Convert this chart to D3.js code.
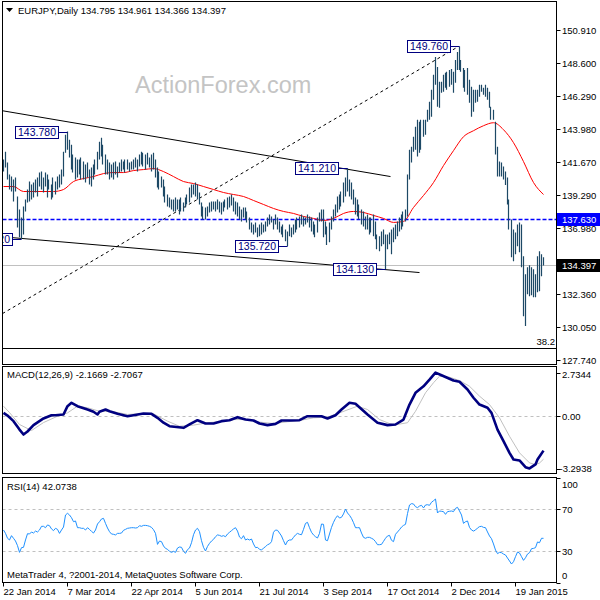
<!DOCTYPE html>
<html><head><meta charset="utf-8">
<script src="https://cdn.jsdelivr.net/npm/d3@7"></script>
<style>body{margin:0;background:#fff}svg{display:block;font-family:"Liberation Sans",Arial,sans-serif}</style>
</head><body><svg id="c" width="600" height="600"></svg>
<script>
// ---- DATA ----
const title = "EURJPY,Daily  134.795 134.961 134.366 134.397";
const highs = [141.81,142.37,141.60,140.76,140.62,140.41,140.55,139.22,138.31,137.75,138.52,139.01,139.71,140.27,140.06,140.20,140.41,140.55,140.90,140.97,
140.55,140.90,140.76,140.41,140.06,140.55,140.27,140.62,140.76,141.11,142.37,143.56,143.78,143.21,142.86,142.16,141.95,141.81,141.81,141.95,
141.67,141.46,141.60,141.11,141.25,141.46,141.81,142.37,143.07,143.35,142.86,142.16,141.81,141.60,141.46,141.60,141.67,141.32,141.60,141.81,
141.67,141.81,141.81,141.60,141.67,141.81,141.95,141.81,142.16,142.37,142.30,142.16,142.30,141.95,142.16,142.30,141.81,141.25,140.97,140.62,
140.41,139.92,139.36,139.15,139.01,139.01,139.15,139.01,139.01,139.15,138.80,139.15,139.36,139.85,140.06,140.06,140.20,140.06,139.50,138.80,
138.52,138.45,138.52,138.80,138.87,138.87,138.87,139.01,138.87,138.80,138.87,139.01,139.15,139.22,139.36,139.15,138.87,138.80,138.52,138.31,
138.45,138.45,138.17,137.75,137.40,137.26,137.40,137.05,137.26,137.40,137.26,137.47,137.75,137.96,137.82,137.61,137.96,137.75,137.47,137.12,
137.26,136.91,136.77,137.26,137.05,137.26,137.61,137.75,137.82,137.96,137.82,137.75,137.96,137.82,137.75,137.47,137.26,137.75,138.10,138.31,
138.31,137.47,137.12,137.40,137.82,138.31,138.66,139.22,139.36,139.57,140.20,140.55,141.21,140.41,140.20,139.71,139.15,139.01,138.66,138.31,
138.17,137.82,137.96,137.75,137.75,137.96,137.47,136.56,136.42,136.77,136.91,136.56,136.56,136.70,136.91,137.05,137.26,137.47,137.75,137.96,
138.17,138.31,140.76,142.51,142.72,143.42,144.12,144.61,144.47,144.61,144.61,144.61,145.31,145.87,146.71,147.76,149.02,148.32,147.27,147.27,
147.76,147.90,147.97,148.11,148.18,147.97,148.81,149.37,149.76,148.81,148.25,148.11,148.25,147.41,146.92,146.71,146.71,146.71,147.06,147.06,
146.85,147.06,146.85,146.57,145.52,145.31,144.47,142.72,141.67,141.60,141.32,140.97,140.55,139.01,137.61,136.91,136.70,137.26,137.40,137.26,
135.02,133.76,134.25,134.39,134.25,134.11,133.76,135.02,135.37,135.16,134.96];
const lows = [140.97,141.25,140.41,139.71,139.57,138.87,139.57,137.05,136.35,136.22,136.56,138.17,138.80,138.87,139.01,139.15,139.50,139.22,139.92,139.71,
139.50,139.92,139.15,139.71,139.01,139.15,139.36,139.71,139.85,140.06,140.62,142.30,142.51,141.95,141.11,140.90,140.41,140.55,140.76,140.41,
140.41,140.20,140.55,140.06,139.92,140.41,140.76,141.11,141.81,142.02,141.46,140.76,140.76,140.41,140.55,140.41,140.76,140.55,140.90,140.97,
141.11,140.90,141.11,140.97,141.11,141.11,141.25,140.97,141.32,141.46,141.32,141.11,141.46,141.25,140.97,141.11,140.55,139.85,139.71,139.85,
139.22,138.80,138.52,138.45,138.31,138.17,138.17,138.31,137.96,138.17,138.17,138.45,138.66,138.80,139.15,139.36,139.22,139.01,138.66,137.82,
137.61,137.61,137.82,138.10,138.17,138.31,138.17,138.31,138.10,137.96,138.17,138.45,138.31,138.45,138.59,138.17,137.96,137.82,137.61,137.47,
137.75,137.61,137.40,136.91,136.70,136.56,136.70,136.35,136.42,136.56,136.70,136.77,137.12,137.26,137.40,136.91,137.26,136.91,136.70,136.56,
136.35,136.07,135.72,136.42,136.35,136.56,136.70,136.91,137.05,137.26,137.12,137.26,137.40,137.05,136.77,136.56,136.35,136.70,137.47,137.47,
136.35,136.56,135.82,136.00,136.91,137.47,137.82,138.10,138.31,138.52,138.80,139.22,139.57,139.22,139.01,138.66,137.96,137.82,137.61,137.26,
137.12,136.91,136.91,136.56,136.70,136.42,136.21,135.51,135.37,135.72,135.86,134.13,135.51,135.86,135.16,136.00,136.21,136.42,136.77,136.91,
137.12,137.47,137.82,140.41,141.60,142.37,142.51,142.02,142.30,142.51,143.42,143.56,144.47,144.61,144.82,146.01,147.06,145.52,145.45,146.50,
146.57,146.85,146.71,146.92,147.06,146.50,147.20,148.11,148.11,147.97,146.85,146.57,146.36,145.80,144.82,145.17,145.80,145.87,146.22,146.57,
146.36,146.22,146.01,145.45,144.61,144.61,142.16,140.62,140.62,140.62,140.41,140.02,138.66,136.91,134.95,134.67,135.16,135.72,135.30,134.25,
130.82,130.12,132.36,132.22,132.29,132.15,132.15,132.50,132.57,133.62,134.37];
const maPoints = [[0,139.92],[5,139.92],[10,139.57],[15,139.57],[20,139.57],[25,139.57],[30,139.71],[35,140.27],[40,140.48],[45,140.62],
[50,140.83],[55,140.90],[60,140.90],[65,141.04],[70,141.11],[75,141.18],[80,140.97],[85,140.62],[90,140.27],[95,140.13],
[100,139.92],[105,139.71],[110,139.50],[115,139.36],[120,139.22],[125,138.94],[130,138.66],[135,138.38],[140,138.17],[145,138.03],
[150,137.82],[155,137.68],[160,137.54],[165,137.68],[170,138.03],[175,138.17],[180,138.10],[185,137.89],[190,137.68],[195,137.40],
[200,137.47],[205,138.45],[210,139.29],[215,140.20],[220,141.39],[225,142.44],[230,143.42],[235,143.84],[240,144.19],[245,144.40],
[250,143.91],[255,143.00],[260,141.67],[265,140.20],[270,139.36]];
const macdPoints = [[0,0.20],[2,0.03],[5,-0.32],[8,-0.85],[10,-1.16],[12,-0.97],[15,-0.57],[20,-0.15],[24,0.05],[26,0.05],[30,0.10],[32,0.62],[34,0.83],[37,0.62],
[42,0.41],[45,0.27],[47,0.10],[48,0.27],[51,0.41],[53,0.30],[57,0.14],[62,-0.01],[65,0.05],[70,0.16],[74,0.14],[77,-0.11],[80,-0.42],[83,-0.64],
[90,-0.74],[93,-0.53],[97,-0.26],[101,-0.47],[105,-0.47],[109,-0.32],[113,-0.26],[117,-0.07],[121,-0.22],[125,-0.28],[128,-0.47],[132,-0.57],
[136,-0.49],[139,-0.28],[143,-0.28],[148,-0.26],[152,-0.01],[159,-0.01],[162,-0.15],[166,0.05],[169,0.41],[173,0.83],[176,0.77],[182,0.10],
[187,-0.42],[192,-0.57],[196,-0.53],[200,-0.22],[203,0.72],[206,1.46],[210,1.87],[213,2.29],[216,2.73],[219,2.56],[225,2.23],[228,2.15],
[232,1.67],[235,1.15],[238,0.72],[242,0.52],[244,0.20],[247,-0.85],[250,-1.58],[253,-2.31],[255,-2.73],[258,-2.79],[261,-3.21],[263,-3.29],
[266,-3.04],[267,-2.73],[270,-2.17]];
const signalPoints = [[0,0.62],[3,0.22],[8,-0.53],[14,-0.91],[20,-0.41],[27,-0.01],[32,0.20],[37,0.62],[42,0.52],[48,0.30],[55,0.27],[62,0.10],
[68,0.14],[75,0.14],[82,-0.32],[88,-0.64],[95,-0.57],[102,-0.42],[108,-0.36],[115,-0.22],[122,-0.22],[128,-0.38],[135,-0.47],[142,-0.36],
[148,-0.28],[155,-0.11],[162,-0.07],[168,0.20],[177,0.62],[182,0.41],[188,-0.22],[195,-0.57],[202,-0.42],[206,0.30],[211,1.46],[215,2.09],
[218,2.50],[223,2.44],[228,2.23],[233,1.87],[238,1.25],[243,0.72],[248,-0.11],[253,-1.27],[258,-2.31],[263,-2.94],[266,-3.05],[268,-2.95],[270,-2.71]];
const rsiVals = [50.0,46.8,42.1,40.5,44.6,42.1,39.5,35.1,28.7,33.2,33.5,40.5,46.5,46.2,48.1,47.1,49.0,48.1,50.0,53.5,
53.5,52.2,54.8,54.1,51.0,49.4,51.6,50.6,46.8,50.0,52.8,64.3,65.9,64.3,61.7,57.9,58.6,52.2,52.2,51.6,
51.6,50.0,52.2,50.6,48.7,47.1,50.0,55.7,57.9,60.5,61.1,56.3,51.9,48.4,46.2,45.9,45.3,46.8,46.8,47.1,
49.7,50.6,51.6,51.9,52.2,52.2,51.9,52.2,54.1,53.5,54.4,54.4,54.1,53.5,52.5,50.3,46.8,36.3,39.5,38.9,
34.8,32.5,31.6,29.7,28.7,29.7,28.7,32.8,33.8,33.5,29.7,27.8,31.3,32.8,37.9,45.5,50.0,51.6,48.4,39.8,
33.5,30.0,34.4,37.3,39.5,41.1,43.6,45.3,44.9,44.0,44.6,43.6,46.2,47.8,49.4,51.0,52.2,49.0,43.3,41.7,
44.6,40.5,41.4,40.5,41.4,36.7,33.2,33.5,31.6,30.9,32.8,34.1,36.0,36.7,38.9,47.8,50.0,49.7,47.1,44.3,
39.8,35.7,39.5,40.5,40.5,43.0,45.3,46.8,45.9,45.5,50.6,56.3,57.3,52.2,47.8,45.3,43.6,42.4,46.8,55.7,
55.4,40.5,39.8,46.2,52.5,57.3,61.1,63.6,61.4,62.1,65.3,70.0,66.2,64.0,61.1,57.0,52.2,52.2,52.2,47.1,
43.0,42.1,43.0,43.0,42.1,41.1,38.9,36.0,36.0,36.3,39.2,42.1,44.3,44.9,40.2,38.9,45.9,48.1,50.3,52.8,
54.4,55.4,65.6,73.8,75.1,74.8,72.2,71.3,72.8,73.5,71.0,73.8,74.1,73.5,76.4,77.9,79.5,66.2,68.1,67.8,
67.5,64.9,67.5,67.8,68.1,67.5,70.6,71.6,68.1,64.3,56.3,57.9,58.6,52.5,50.0,49.0,50.0,51.9,53.2,53.5,
52.5,52.2,48.1,44.3,41.7,36.7,30.9,27.5,28.7,28.4,27.1,26.2,23.3,20.5,17.6,19.8,24.6,29.0,28.1,24.6,
21.1,23.6,27.1,28.4,32.2,32.5,33.2,38.6,37.9,42.1,42.07];
const priceTicks = [150.91,148.60,146.29,143.98,141.67,139.29,136.98,134.67,132.36,130.05,127.74];
const macdTicks = [2.7344,0,-3.2938];
const macdTickText = ["2.7344","0.00","-3.2938"];
const rsiTicks = [100,70,30,0];
const rsiLevels = [70,30];
const dateIdx = [0,32,64,96,128,160,192,224,256];
const dateLabels = ["22 Jan 2014","7 Mar 2014","22 Apr 2014","5 Jun 2014","21 Jul 2014","3 Sep 2014","17 Oct 2014","2 Dec 2014","19 Jan 2015"];
const peakIdx = [9,32,142,172,191,228];
const peakVal = [136.22,143.78,135.72,141.21,134.13,149.76];
const channelUpper = [[-0.5,145.24],[193.5,140.62]];
const channelLower = [[-0.5,136.39],[208,133.88]];
const dottedTrend = [[-0.5,131.00],[227,149.71]];
const resistanceLevel = 137.63;
const bidPrice = 134.397;
const fibLevel = 128.56;
const fibText = "38.2";
const macdText = "MACD(12,26,9) -2.1669 -2.7067";
const rsiText = "RSI(14) 42.0738";
const footer = "MetaTrader 4, ?2001-2014, MetaQuotes Software Corp.";

// ---- LAYOUT ----
const svg = d3.select('#c');
const L = 2.5, R = 556.5;
const P = {main:[1.5,364.5], macd:[366.5,473.5], rsi:[477.5,582.5]};
const x = d3.scaleLinear().domain([0,270]).range([3.5,543.5]);
const y = d3.scaleLinear().domain([127.74,150.91]).range([360,30]);
const ym = d3.scaleLinear().domain([-3.2938,2.7344]).range([468.5,372.5]);
const yr = d3.scaleLinear().domain([0,100]).range([582.5,477.5]);
const f3 = d3.format('.3f');

const defs = svg.append('defs');
Object.entries(P).forEach(([k,[t,b]])=>{
  defs.append('clipPath').attr('id','clip-'+k).append('rect').attr('x',L).attr('y',t).attr('width',R-L).attr('height',b-t);
});
const gMain = svg.append('g').attr('clip-path','url(#clip-main)');
const gMacd = svg.append('g').attr('clip-path','url(#clip-macd)');
const gRsi = svg.append('g').attr('clip-path','url(#clip-rsi)');

// watermark
gMain.append('text').attr('x',135).attr('y',93).attr('font-size',23.5).attr('fill','#c4c4c4').text('ActionForex.com');

// horizontal lines
gMain.append('line').attr('x1',L).attr('x2',R).attr('y1',Math.round(y(bidPrice))+0.5).attr('y2',Math.round(y(bidPrice))+0.5).attr('stroke','#c0c0c0');
gMain.append('line').attr('x1',L).attr('x2',R).attr('y1',Math.round(y(resistanceLevel))+0.5).attr('y2',Math.round(y(resistanceLevel))+0.5)
  .attr('stroke','#0000ff').attr('stroke-width',1.3).attr('stroke-dasharray','4,2');
gMain.append('line').attr('x1',L).attr('x2',R).attr('y1',Math.round(y(fibLevel))+0.5).attr('y2',Math.round(y(fibLevel))+0.5).attr('stroke','#000');
gMain.append('text').attr('x',555).attr('y',y(fibLevel)-3).attr('text-anchor','end').attr('font-size',9.5).attr('fill','#000').text(fibText);

// trendlines
const tl = d3.line().x(d=>x(d[0])).y(d=>y(d[1]));
gMain.append('path').attr('d',tl(channelUpper)).attr('stroke','#000').attr('fill','none');
gMain.append('path').attr('d',tl(channelLower)).attr('stroke','#000').attr('fill','none');
gMain.append('path').attr('d',tl(dottedTrend)).attr('stroke','#000').attr('fill','none').attr('stroke-dasharray','3,3');

// MA
gMain.append('path').attr('d',d3.line().x(d=>x(d[0])).y(d=>y(d[1])).curve(d3.curveMonotoneX)(maPoints))
  .attr('stroke','#ff0000').attr('fill','none').attr('stroke-width',1);

// bars
gMain.selectAll('line.bar').data(highs).join('line').attr('class','bar')
  .attr('x1',(d,i)=>Math.round(x(i))-0.5).attr('x2',(d,i)=>Math.round(x(i))-0.5)
  .attr('y1',d=>y(d)).attr('y2',(d,i)=>y(lows[i]))
  .attr('stroke','#1d4966').attr('stroke-width',1.2);

// peak labels
peakIdx.forEach((pi,k)=>{
  const bx = x(pi), by = y(peakVal[k]);
  const bw = 43, bh = 12;
  const rx = Math.round(bx-10)+0.5;
  gMain.append('line').attr('x1',rx).attr('x2',bx).attr('y1',Math.round(by)+0.5).attr('y2',Math.round(by)+0.5).attr('stroke','#000080');
  gMain.append('rect').attr('x',rx-bw).attr('y',Math.round(by-bh/2)+0.5).attr('width',bw).attr('height',bh)
    .attr('fill','#fff').attr('stroke','#000080');
  gMain.append('text').attr('x',rx-bw/2).attr('y',Math.round(by-bh/2)+10).attr('text-anchor','middle')
    .attr('font-size',10.5).attr('fill','#000080').text(f3(peakVal[k]));
});

// title
svg.append('path').attr('d','M6,8 L13,8 L9.5,12 Z').attr('fill','#000');
svg.append('text').attr('x',18).attr('y',14).attr('font-size',9.5).attr('fill','#000').text(title);

// ---- MACD ----
gMacd.append('line').attr('x1',L).attr('x2',R).attr('y1',Math.round(ym(0))+0.5).attr('y2',Math.round(ym(0))+0.5)
  .attr('stroke','#c0c0c0').attr('stroke-dasharray','3,3');
const ml = d3.line().x(d=>x(d[0])).y(d=>ym(d[1]));
gMacd.append('path').attr('d',ml(signalPoints)).attr('stroke','#c0c0c0').attr('fill','none').attr('stroke-width',1);
gMacd.append('path').attr('d',ml(macdPoints)).attr('stroke','#000080').attr('fill','none').attr('stroke-width',2.6).attr('stroke-linejoin','round');
svg.append('text').attr('x',7).attr('y',378).attr('font-size',9.5).attr('fill','#000').text(macdText);

// ---- RSI ----
rsiLevels.forEach(v=>{
  gRsi.append('line').attr('x1',L).attr('x2',R).attr('y1',Math.round(yr(v))+0.5).attr('y2',Math.round(yr(v))+0.5)
    .attr('stroke','#c0c0c0').attr('stroke-dasharray','3,3');
});
gRsi.append('path').attr('d',d3.line().x((d,i)=>x(i)).y(d=>yr(d))(rsiVals)).attr('stroke','#1e90ff').attr('fill','none').attr('stroke-width',1);
svg.append('text').attr('x',7).attr('y',490).attr('font-size',9.5).attr('fill','#000').text(rsiText);
svg.append('text').attr('x',7).attr('y',578).attr('font-size',9.5).attr('fill','#000').text(footer);

// ---- frames ----
Object.values(P).forEach(([t,b])=>{
  svg.append('rect').attr('x',L).attr('y',t).attr('width',R-L).attr('height',b-t).attr('fill','none').attr('stroke','#000');
});

// ---- right axes ----
const ax = svg.append('g').attr('font-size',9.5).attr('fill','#000');
priceTicks.forEach(v=>{
  const yy = Math.round(y(v))+0.5;
  ax.append('line').attr('x1',R).attr('x2',R+4).attr('y1',yy).attr('y2',yy).attr('stroke','#000');
  ax.append('text').attr('x',562).attr('y',yy+3.5).text(f3(v));
});
// level labels
const lvl = (v,bg)=>{
  const yy = Math.round(y(v));
  ax.append('rect').attr('x',557).attr('y',yy-6).attr('width',43).attr('height',13).attr('fill',bg);
  ax.append('text').attr('x',562).attr('y',yy+4).attr('fill','#fff').text(f3(v));
};
lvl(resistanceLevel,'#0000ff');
lvl(bidPrice,'#000000');
const macdLabelY = [374,416,468];
macdTicks.forEach((v,k)=>{
  const yy = Math.round(ym(v))+0.5;
  ax.append('line').attr('x1',R).attr('x2',R+4).attr('y1',yy).attr('y2',yy).attr('stroke','#000');
  ax.append('text').attr('x',v<0?559.5:562).attr('y',macdLabelY[k]+3.5).text(macdTickText[k]);
});
const rsiLabelY = [484,509,551,575];
rsiTicks.forEach((v,k)=>{
  const yy = Math.round(yr(v))+0.5;
  ax.append('line').attr('x1',R).attr('x2',R+4).attr('y1',yy).attr('y2',yy).attr('stroke','#000');
  ax.append('text').attr('x',562).attr('y',rsiLabelY[k]+3.5).text(v);
});

// ---- x axis ----
dateIdx.forEach((di,k)=>{
  const xx = Math.round(x(di))-0.5;
  ax.append('line').attr('x1',xx).attr('x2',xx).attr('y1',P.rsi[1]).attr('y2',P.rsi[1]+4).attr('stroke','#000');
  ax.append('text').attr('x',xx).attr('y',595).text(dateLabels[k]);
});
</script></body></html>
